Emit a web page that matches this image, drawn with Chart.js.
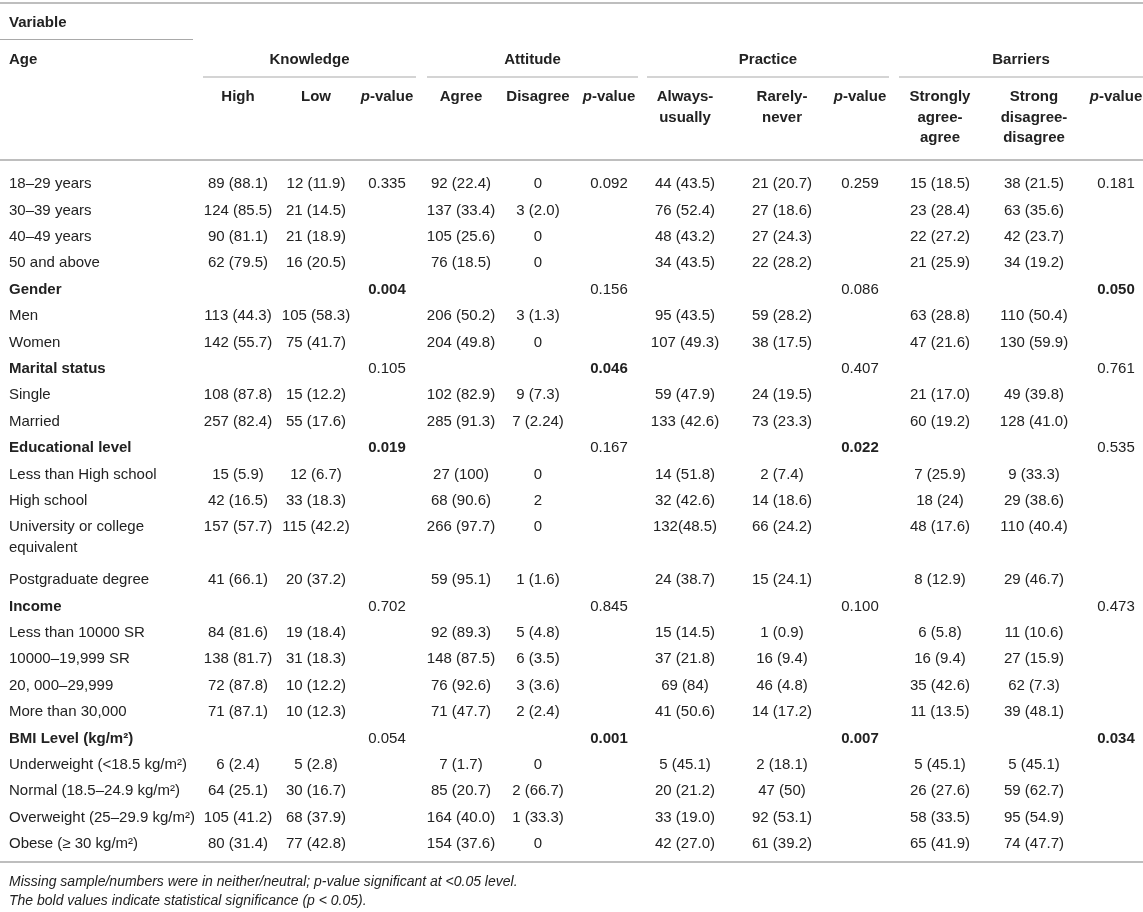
<!DOCTYPE html>
<html>
<head>
<meta charset="utf-8">
<script src="https://cdn.jsdelivr.net/npm/chart.js@4.4.1/dist/chart.umd.min.js"></script>
<style>
  html, body { margin: 0; padding: 0; background: #ffffff; }
  #wrap { width: 1143px; height: 912px; }
</style>
</head>
<body>
<div id="wrap"><canvas id="c" width="1143" height="912"></canvas></div>
<script>
// ---------------- DATA ----------------
const headerVariable = "Variable";
const headerAge = "Age";
const groupNames = ["Knowledge", "Attitude", "Practice", "Barriers"];
const subHeaders = [
  "High", "Low", "p-value",
  "Agree", "Disagree", "p-value",
  "Always-\nusually", "Rarely-\nnever", "p-value",
  "Strongly\nagree-\nagree", "Strong\ndisagree-\ndisagree", "p-value"
];
const rowLabels = [
  "18–29 years", "30–39 years", "40–49 years", "50 and above",
  "Gender", "Men", "Women",
  "Marital status", "Single", "Married",
  "Educational level", "Less than High school", "High school", "University or college\nequivalent", "Postgraduate degree",
  "Income", "Less than 10000 SR", "10000–19,999 SR", "20, 000–29,999", "More than 30,000",
  "BMI Level (kg/m²)", "Underweight (<18.5 kg/m²)", "Normal (18.5–24.9 kg/m²)", "Overweight (25–29.9 kg/m²)", "Obese (≥ 30 kg/m²)"
];
const groupRowLabels = ["Gender", "Marital status", "Educational level", "Income", "BMI Level (kg/m²)"];

const knowledgeHigh = ["89 (88.1)","124 (85.5)","90 (81.1)","62 (79.5)","","113 (44.3)","142 (55.7)","","108 (87.8)","257 (82.4)","","15 (5.9)","42 (16.5)","157 (57.7)","41 (66.1)","","84 (81.6)","138 (81.7)","72 (87.8)","71 (87.1)","","6 (2.4)","64 (25.1)","105 (41.2)","80 (31.4)"];
const knowledgeLow = ["12 (11.9)","21 (14.5)","21 (18.9)","16 (20.5)","","105 (58.3)","75 (41.7)","","15 (12.2)","55 (17.6)","","12 (6.7)","33 (18.3)","115 (42.2)","20 (37.2)","","19 (18.4)","31 (18.3)","10 (12.2)","10 (12.3)","","5 (2.8)","30 (16.7)","68 (37.9)","77 (42.8)"];
const knowledgeP = ["0.335","","","","0.004","","","0.105","","","0.019","","","","","0.702","","","","","0.054","","","",""];

const attitudeAgree = ["92 (22.4)","137 (33.4)","105 (25.6)","76 (18.5)","","206 (50.2)","204 (49.8)","","102 (82.9)","285 (91.3)","","27 (100)","68 (90.6)","266 (97.7)","59 (95.1)","","92 (89.3)","148 (87.5)","76 (92.6)","71 (47.7)","","7 (1.7)","85 (20.7)","164 (40.0)","154 (37.6)"];
const attitudeDisagree = ["0","3 (2.0)","0","0","","3 (1.3)","0","","9 (7.3)","7 (2.24)","","0","2","0","1 (1.6)","","5 (4.8)","6 (3.5)","3 (3.6)","2 (2.4)","","0","2 (66.7)","1 (33.3)","0"];
const attitudeP = ["0.092","","","","0.156","","","0.046","","","0.167","","","","","0.845","","","","","0.001","","","",""];

const practiceAlways = ["44 (43.5)","76 (52.4)","48 (43.2)","34 (43.5)","","95 (43.5)","107 (49.3)","","59 (47.9)","133 (42.6)","","14 (51.8)","32 (42.6)","132(48.5)","24 (38.7)","","15 (14.5)","37 (21.8)","69 (84)","41 (50.6)","","5 (45.1)","20 (21.2)","33 (19.0)","42 (27.0)"];
const practiceRarely = ["21 (20.7)","27 (18.6)","27 (24.3)","22 (28.2)","","59 (28.2)","38 (17.5)","","24 (19.5)","73 (23.3)","","2 (7.4)","14 (18.6)","66 (24.2)","15 (24.1)","","1 (0.9)","16 (9.4)","46 (4.8)","14 (17.2)","","2 (18.1)","47 (50)","92 (53.1)","61 (39.2)"];
const practiceP = ["0.259","","","","0.086","","","0.407","","","0.022","","","","","0.100","","","","","0.007","","","",""];

const barriersAgree = ["15 (18.5)","23 (28.4)","22 (27.2)","21 (25.9)","","63 (28.8)","47 (21.6)","","21 (17.0)","60 (19.2)","","7 (25.9)","18 (24)","48 (17.6)","8 (12.9)","","6 (5.8)","16 (9.4)","35 (42.6)","11 (13.5)","","5 (45.1)","26 (27.6)","58 (33.5)","65 (41.9)"];
const barriersDisagree = ["38 (21.5)","63 (35.6)","42 (23.7)","34 (19.2)","","110 (50.4)","130 (59.9)","","49 (39.8)","128 (41.0)","","9 (33.3)","29 (38.6)","110 (40.4)","29 (46.7)","","11 (10.6)","27 (15.9)","62 (7.3)","39 (48.1)","","5 (45.1)","59 (62.7)","95 (54.9)","74 (47.7)"];
const barriersP = ["0.181","","","","0.050","","","0.761","","","0.535","","","","","0.473","","","","","0.034","","","",""];

const footnotes = [
  "Missing sample/numbers were in neither/neutral; p-value significant at <0.05 level.",
  "The bold values indicate statistical significance (p < 0.05)."
];
const significanceLevel = 0.05;

// ---------------- LAYOUT / STYLE ----------------
const FONT = '"Liberation Sans", Arial, Helvetica, sans-serif';
const FS = 15;
const FOOT_FS = 14;
const TEXT = '#222222';
const RULE = '#a9a9a9';
const W = 1143, H = 912;
const LABEL_X = 9;
const COL_X = [238, 316, 387, 461, 538, 609, 685, 782, 860, 940, 1034, 1116];
const GROUP_SPANS = [[203, 416], [427, 638], [647, 889], [899, 1143]];
const TOP_RULE_Y = 3, VAR_Y = 22.5, VAR_RULE_Y = 39.5, VAR_RULE_X2 = 193;
const GROUP_Y = 60, GROUP_RULE_Y = 77, SUB_Y = 97, SUB_GAP = 20.5, HEAD_RULE_Y = 160;
const FIRST_ROW_Y = 184, ROW_STEP = 26.4, LINE_GAP = 20.5;

const valueColumns = [knowledgeHigh, knowledgeLow, knowledgeP, attitudeAgree, attitudeDisagree, attitudeP,
                      practiceAlways, practiceRarely, practiceP, barriersAgree, barriersDisagree, barriersP];
const pColumns = [2, 5, 8, 11];

// row positions (in y-scale units) derived from number of text lines per row
let acc = 0;
const rowY = rowLabels.map(l => {
  const y = FIRST_ROW_Y + acc;
  acc += ROW_STEP * l.split('\n').length;
  return y;
});
const lastRowY = rowY[rowY.length - 1];
const BOTTOM_RULE_Y = lastRowY + 18;

const datasets = [];
datasets.push({
  label: 'Variable',
  data: rowLabels.map((t, i) => ({ x: LABEL_X, y: rowY[i], t: t, bold: groupRowLabels.includes(t), align: 'left' }))
});
valueColumns.forEach((col, c) => {
  datasets.push({
    label: subHeaders[c],
    data: col.map((t, i) => ({
      x: COL_X[c], y: rowY[i], t: t,
      bold: pColumns.includes(c) && t !== '' && parseFloat(t) <= significanceLevel,
      align: 'center'
    }))
  });
});

function font(bold, italic, size) {
  return (italic ? 'italic ' : '') + (bold ? 'bold ' : '') + (size || FS) + 'px ' + FONT;
}

function drawPValueHeader(ctx, x, y) {
  const a = 'p', b = '-value';
  ctx.font = font(true, true);
  const wa = ctx.measureText(a).width;
  ctx.font = font(true, false);
  const wb = ctx.measureText(b).width;
  let sx = x - (wa + wb) / 2;
  ctx.textAlign = 'left';
  ctx.font = font(true, true);
  ctx.fillText(a, sx, y);
  ctx.font = font(true, false);
  ctx.fillText(b, sx + wa, y);
}

function hline(ctx, x1, x2, y, w) {
  ctx.beginPath();
  ctx.lineWidth = w || 1.5;
  ctx.strokeStyle = RULE;
  ctx.moveTo(x1, y);
  ctx.lineTo(x2, y);
  ctx.stroke();
}

const tablePlugin = {
  id: 'tablePlugin',
  beforeDraw(chart) {
    const ctx = chart.ctx;
    ctx.save();
    ctx.fillStyle = '#ffffff';
    ctx.fillRect(0, 0, chart.width, chart.height);
    ctx.restore();
  },
  afterDatasetsDraw(chart) {
    const ctx = chart.ctx;
    const xs = chart.scales.x, ys = chart.scales.y;
    const px = v => xs.getPixelForValue(v);
    const py = v => ys.getPixelForValue(v);
    ctx.save();
    ctx.fillStyle = TEXT;
    ctx.textBaseline = 'middle';

    // rules
    hline(ctx, px(0), px(W), py(TOP_RULE_Y), 1.6);
    hline(ctx, px(0), px(VAR_RULE_X2), py(VAR_RULE_Y), 1.2);
    GROUP_SPANS.forEach(s => hline(ctx, px(s[0]), px(s[1]), py(GROUP_RULE_Y), 1.2));
    hline(ctx, px(0), px(W), py(HEAD_RULE_Y), 1.6);
    hline(ctx, px(0), px(W), py(BOTTOM_RULE_Y), 1.6);

    // header texts
    ctx.textAlign = 'left';
    ctx.font = font(true);
    ctx.fillText(headerVariable, px(LABEL_X), py(VAR_Y));
    ctx.fillText(headerAge, px(LABEL_X), py(GROUP_Y));
    ctx.textAlign = 'center';
    groupNames.forEach((g, i) => {
      ctx.font = font(true);
      ctx.fillText(g, px((GROUP_SPANS[i][0] + GROUP_SPANS[i][1]) / 2), py(GROUP_Y));
    });
    subHeaders.forEach((s, c) => {
      const lines = s.split('\n');
      lines.forEach((ln, k) => {
        const y = py(SUB_Y + k * SUB_GAP);
        if (ln === 'p-value') {
          drawPValueHeader(ctx, px(COL_X[c]), y);
        } else {
          ctx.textAlign = 'center';
          ctx.font = font(true);
          ctx.fillText(ln, px(COL_X[c]), y);
        }
      });
    });

    // body cells placed by the library's point elements
    chart.data.datasets.forEach((ds, d) => {
      const meta = chart.getDatasetMeta(d);
      meta.data.forEach((el, i) => {
        const p = ds.data[i];
        if (!p.t) return;
        ctx.font = font(p.bold);
        ctx.textAlign = p.align;
        p.t.split('\n').forEach((ln, k) => {
          ctx.fillText(ln, el.x, el.y + k * LINE_GAP);
        });
      });
    });

    // footnotes
    ctx.textAlign = 'left';
    ctx.font = font(false, true, FOOT_FS);
    footnotes.forEach((f, i) => {
      ctx.fillText(f, px(LABEL_X), py(BOTTOM_RULE_Y + 20 + i * 19.5));
    });
    ctx.restore();
  }
};

new Chart(document.getElementById('c'), {
  type: 'scatter',
  data: { datasets: datasets },
  options: {
    responsive: false,
    animation: false,
    devicePixelRatio: 1,
    layout: { padding: 0 },
    elements: { point: { radius: 0, hoverRadius: 0 } },
    plugins: { legend: { display: false }, tooltip: { enabled: false } },
    events: [],
    scales: {
      x: { type: 'linear', min: 0, max: W, display: false },
      y: { type: 'linear', min: 0, max: H, reverse: true, display: false }
    }
  },
  plugins: [tablePlugin]
});
</script>
</body>
</html>
